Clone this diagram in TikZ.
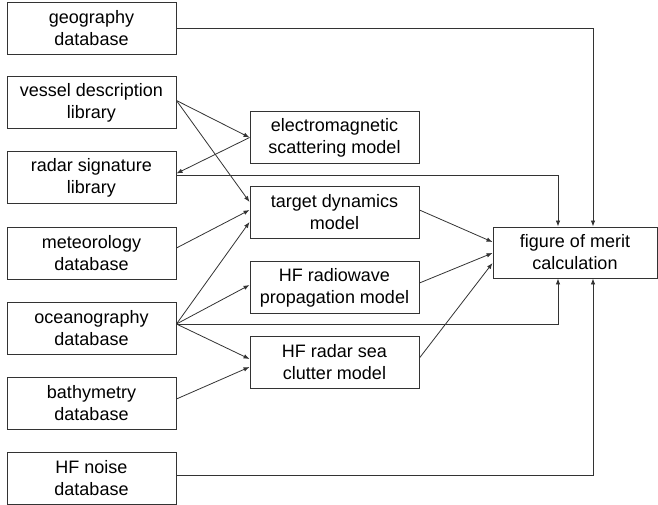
\documentclass[tikz,border=0pt]{standalone}
\usepackage{fontspec}
\setmainfont{Liberation Sans}
\usetikzlibrary{arrows.meta}
\definecolor{ln}{HTML}{333333}
\begin{document}
\begin{tikzpicture}[x=1pt,y=-1pt,
  box/.style={draw=ln,line width=0.9pt,minimum width=169pt,minimum height=52pt,align=center,inner sep=0pt,font=\fontsize{18}{22}\selectfont},
  conn/.style={draw=ln,line width=0.8pt,-{Latex[length=6pt,width=4.5pt]}}]
\useasboundingbox (0,0) rectangle (658,505);
\node[box] (geo) at (91.5,28) {geography\\database};
\node[box] (vessel) at (91.5,102.5) {vessel description\\library};
\node[box] (radar) at (91.5,177.5) {radar signature\\library};
\node[box] (meteo) at (91.5,253) {meteorology\\database};
\node[box] (ocean) at (91.5,328) {oceanography\\database};
\node[box] (bathy) at (91.5,403) {bathymetry\\database};
\node[box] (noise) at (91.5,478) {HF noise\\database};
\node[box] (em) at (334.5,137.5) {electromagnetic\\scattering model};
\node[box] (td) at (334.5,212.5) {target dynamics\\model};
\node[box] (hfr) at (334.5,287.5) {HF radiowave\\propagation model};
\node[box] (sea) at (334.5,362.5) {HF radar sea\\clutter model};
\node[box,minimum width=164pt,minimum height=51pt] (fom) at (575,252.5) {figure of merit\\calculation};
% connectors
\draw[conn] (geo.east) -| ([xshift=18pt]fom.north);
\draw[conn] ([yshift=2pt]vessel.east) -- (em.west);
\draw[conn] ([yshift=2pt]vessel.east) -- ([yshift=10.5pt]td.west);
\draw[conn] (em.west) -- ([yshift=4pt]radar.east);
\draw[conn] ([yshift=2.5pt]radar.east) -| ([xshift=-17pt]fom.north);
\draw[conn] ([yshift=5pt]meteo.east) -- ([yshift=2.5pt]td.west);
\draw[conn] ([yshift=4pt]ocean.east) -- ([yshift=-9.5pt]td.west);
\draw[conn] ([yshift=4pt]ocean.east) -- ([yshift=2.5pt]hfr.west);
\draw[conn] ([yshift=4pt]ocean.east) -| ([xshift=-17pt]fom.south);
\draw[conn] ([yshift=4pt]ocean.east) -- ([yshift=3.5pt]sea.west);
\draw[conn] ([yshift=4pt]bathy.east) -- ([yshift=-4.5pt]sea.west);
\draw[conn] ([yshift=2.5pt]td.east) -- ([yshift=10.5pt]fom.west);
\draw[conn] ([yshift=4.5pt]hfr.east) -- ([yshift=-0.5pt]fom.west);
\draw[conn] ([yshift=4.5pt]sea.east) -- ([yshift=-10.5pt]fom.west);
\draw[conn] ([yshift=3pt]noise.east) -| ([xshift=18pt]fom.south);
\end{tikzpicture}
\end{document}
